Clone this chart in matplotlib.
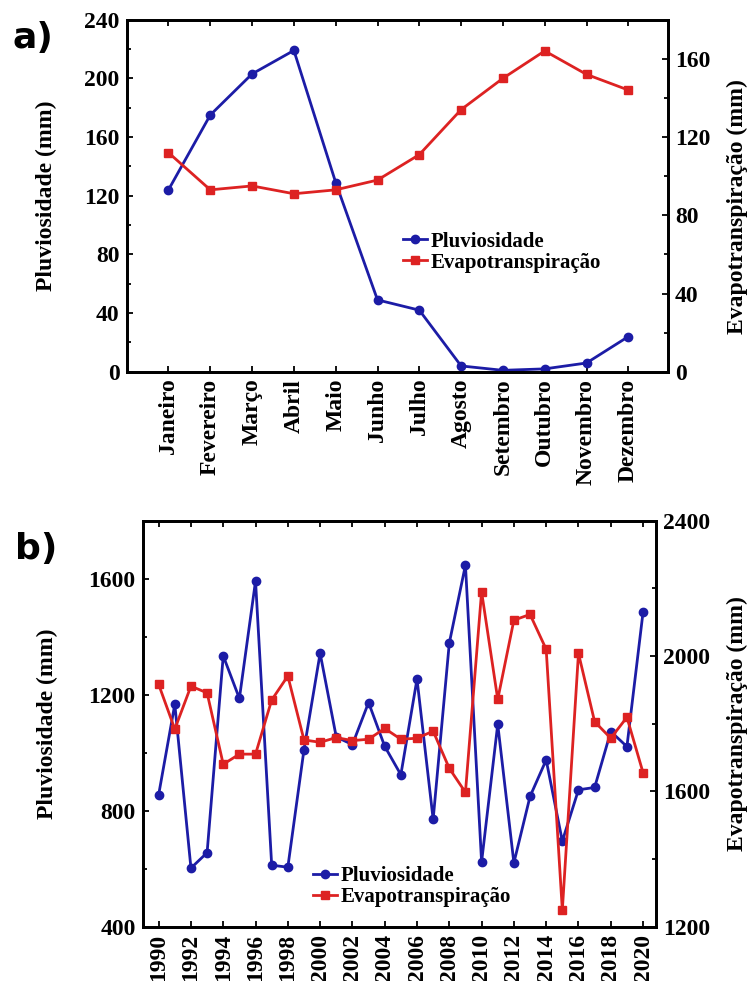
import numpy as np
import matplotlib
matplotlib.use("Agg")
import matplotlib.pyplot as plt
from matplotlib.ticker import MultipleLocator

# monthly means
meses = ['Janeiro', 'Fevereiro', 'Março', 'Abril', 'Maio', 'Junho', 'Julho',
         'Agosto', 'Setembro', 'Outubro', 'Novembro', 'Dezembro']
pluv_mes = [124, 175, 203, 219, 129, 49, 42, 4, 1, 2, 6, 24]
evap_mes = [112, 93, 95, 91, 93, 98, 111, 134, 150, 164, 152, 144]

# annual totals
anos = list(range(1990, 2021))
pluv_ano = [855, 1167, 602, 655, 1334, 1187, 1592, 612, 605, 1010,
            1343, 1054, 1028, 1173, 1022, 924, 1254, 770, 1378, 1647,
            623, 1098, 620, 849, 975, 695, 872, 880, 1073, 1021, 1485]
evap_ano = [1916, 1784, 1911, 1891, 1680, 1710, 1710, 1870, 1941, 1752,
            1745, 1759, 1750, 1754, 1786, 1754, 1757, 1778, 1668, 1597,
            2190, 1872, 2106, 2123, 2020, 1249, 2008, 1806, 1757, 1819, 1655]

azul = '#1c1ca6'
verm = '#dd2222'
serif = 'Liberation Serif'
tfs = 17

fig = plt.figure(figsize=(7.54, 9.81), dpi=100)


def estilo(ax, ax2):
    for a in (ax, ax2):
        for s in a.spines.values():
            s.set_linewidth(2)
    ax.tick_params(which='both', direction='in', top=True, width=1.3, labelsize=tfs, pad=5)
    ax.tick_params(which='major', length=4)
    ax.tick_params(which='minor', length=3)
    ax2.tick_params(which='both', direction='in', width=1.3, labelsize=tfs, pad=5)
    ax2.tick_params(which='major', length=4)
    ax2.tick_params(which='minor', length=3)
    for lab in ax.get_xticklabels() + ax.get_yticklabels() + ax2.get_yticklabels():
        lab.set_fontfamily(serif)
        lab.set_fontweight('bold')


leg_kw = dict(loc='center left', frameon=False, handlelength=1.15, handletextpad=0.2,
              labelspacing=0.05, borderpad=0, borderaxespad=0,
              prop={'family': serif, 'weight': 'bold', 'size': 15})

# a)
ax = fig.add_axes([0.168, 0.621, 0.718, 0.359])
ax2 = ax.twinx()
x = np.arange(len(meses))
l1, = ax.plot(x, pluv_mes, color=azul, lw=2, marker='o', ms=6, label='Pluviosidade')
l2, = ax2.plot(x, evap_mes, color=verm, lw=2, marker='s', ms=6, label='Evapotranspiração')
ax.set_xlim(-1, 11.95)
ax.set_ylim(0, 240)
ax2.set_ylim(0, 180)
ax.set_xticks(x)
ax.set_xticklabels(meses, rotation=90)
ax.yaxis.set_major_locator(MultipleLocator(40))
ax.yaxis.set_minor_locator(MultipleLocator(20))
ax2.set_yticks([0, 40, 80, 120, 160])
ax2.yaxis.set_minor_locator(MultipleLocator(20))
estilo(ax, ax2)
ax.set_ylabel('Pluviosidade (mm)', fontfamily=serif, fontweight='bold', fontsize=17)
ax.yaxis.set_label_coords(-0.128, 0.5)
ax2.set_ylabel('Evapotranspiração (mm)', fontfamily=serif, fontweight='bold', fontsize=17)
ax2.yaxis.set_label_coords(1.108, 0.47)
ax.legend([l1, l2], ['Pluviosidade', 'Evapotranspiração'],
          bbox_to_anchor=(0.51, 0.34), **leg_kw)
fig.text(0.017, 0.961, 'a)', fontsize=26, fontweight='bold', family='DejaVu Sans', va='center')

# b)
bx = fig.add_axes([0.189, 0.0554, 0.681, 0.4138])
bx2 = bx.twinx()
m1, = bx.plot(anos, pluv_ano, color=azul, lw=2, marker='o', ms=6, label='Pluviosidade')
m2, = bx2.plot(anos, evap_ano, color=verm, lw=2, marker='s', ms=6, label='Evapotranspiração')
bx.set_xlim(1989, 2020.8)
bx.set_ylim(400, 1800)
bx2.set_ylim(1200, 2400)
bx.set_xticks(anos[::2])
bx.set_xticklabels([str(a) for a in anos[::2]], rotation=90)
bx.set_yticks([400, 800, 1200, 1600])
bx.yaxis.set_minor_locator(MultipleLocator(200))
bx2.set_yticks([1200, 1600, 2000, 2400])
bx2.yaxis.set_minor_locator(MultipleLocator(200))
estilo(bx, bx2)
bx.set_ylabel('Pluviosidade (mm)', fontfamily=serif, fontweight='bold', fontsize=17)
bx.yaxis.set_label_coords(-0.165, 0.5)
bx2.set_ylabel('Evapotranspiração (mm)', fontfamily=serif, fontweight='bold', fontsize=17)
bx2.yaxis.set_label_coords(1.138, 0.5)
bx.legend([m1, m2], ['Pluviosidade', 'Evapotranspiração'],
          bbox_to_anchor=(0.332, 0.098), **leg_kw)
fig.text(0.02, 0.44, 'b)', fontsize=26, fontweight='bold', family='DejaVu Sans', va='center')

fig.savefig('out.png', dpi=100)
